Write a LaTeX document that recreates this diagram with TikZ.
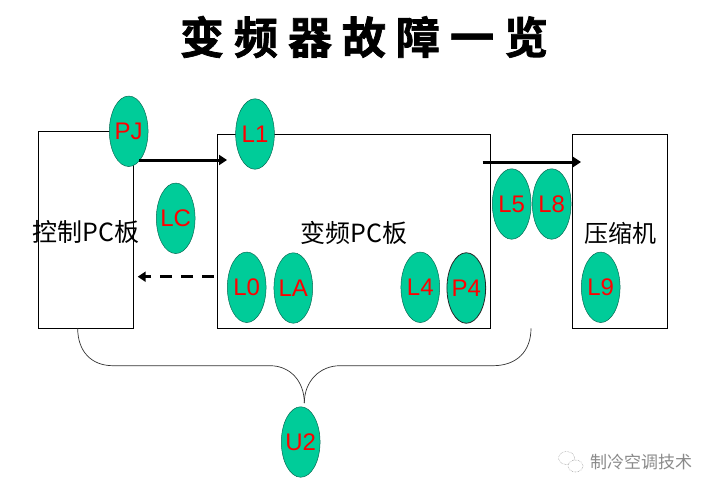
\documentclass[tikz,border=0pt]{standalone}
\usepackage{fontspec}
\setmainfont{Liberation Sans}
\newfontfamily\cjk{Noto Sans CJK SC}
\newfontfamily\cjktitle[FakeBold=1.6]{Noto Sans CJK SC Bold}
\usetikzlibrary{arrows.meta,calc,shapes.geometric}
\definecolor{ovalgreen}{HTML}{00CC99}
\definecolor{ovalline}{HTML}{0A6B55}
\definecolor{wm}{HTML}{8A8A8A}
\tikzset{
  oval/.style={ellipse,draw=ovalline,line width=.5pt,fill=ovalgreen,minimum width=38.7pt,minimum height=70.5pt,inner sep=0pt,text=red,font=\fontsize{24}{24}\selectfont,execute at begin node={\hbox to 0pt\bgroup\hss\lower.8pt\hbox\bgroup},execute at end node={\egroup\hss\egroup}},
  board/.style={draw=black,line width=.8pt,fill=none,inner sep=0pt},
  lbl/.style={inner sep=0pt,font=\fontsize{25}{25}\selectfont\cjk},
  flow/.style={line width=3pt,-{Triangle[length=8pt,width=10pt]}},
  brace/.style={draw=black!80,line width=.7pt}
}
\begin{document}
\begin{tikzpicture}[x=1pt,y=-1pt]
\useasboundingbox (0,0) rectangle (714,493);
% boards
\node[board,minimum width=94.6pt,minimum height=197pt] (ctrl) at (86,229.8) {};
\node[board,minimum width=272.7pt,minimum height=194pt] (inv) at (353.65,231.3) {};
\node[board,minimum width=95pt,minimum height=194pt] (comp) at (619.8,231.3) {};
% title
\node[inner sep=0pt] (title) at (364,37) {\fontsize{44}{44}\selectfont\cjktitle 变\hspace{10pt}频\hspace{10pt}器\hspace{10pt}故\hspace{10pt}障\hspace{10pt}一\hspace{10pt}览};
% labels
\node[lbl] (lctrl) at (85.7,232.5) {控制PC板};
\node[lbl] (linv) at (354,232.5) {变频PC板};
\node[lbl,font=\fontsize{24}{24}\selectfont\cjk] (lcomp) at (620,233) {压缩机};
% ovals
\node[oval] (pj) at (128.7,131.3) {PJ};
\node[oval] (l1) at (255,134) {L1};
\node[oval] (lc) at (175.7,218.3) {LC};
\node[oval] (l0) at (246.7,287.3) {L0};
\node[oval] (la) at (293.3,288) {LA};
\node[oval] (l4) at (420.3,287.3) {L4};
\node[oval,draw=black!85,line width=.8pt] (p4) at (466.3,288) {P4};
\node[oval] (l5) at (511.7,204) {L5};
\node[oval] (l8) at (551.7,204) {L8};
\node[oval] (l9) at (600.7,287.3) {L9};
\node[oval] (u2) at (300.7,442) {U2};
% arrows
\coordinate (a1s) at (139.3,160);
\coordinate (a1e) at (227,160);
\coordinate (a2s) at (482.7,162);
\coordinate (a2e) at (581,162);
\coordinate (a3s) at (214,276.7);
\coordinate (a3e) at (137.7,276.7);
\draw[flow] (a1s) -- (a1e);
\draw[flow] (a2s) -- (a2e);
\draw[flow,dash pattern=on 11.7pt off 9.3pt] (a3s) -- (a3e);
% brace
\coordinate (bl) at (77.7,328.3);
\coordinate (br) at (531,328.3);
\coordinate (bm) at (304.3,403);
\draw[brace] (bl) .. controls (77.7,351) and (91,365.7) .. (113,365.7) -- (270,365.7)
  .. controls (290,365.7) and (304.3,381) .. (bm);
\draw[brace] (br) .. controls (531,351) and (517,365.7) .. (493,365.7) -- (340,365.7)
  .. controls (320,365.7) and (304.3,381) .. (bm);
% watermark
\node[ellipse,draw=wm,densely dotted,line width=.5pt,minimum width=16pt,minimum height=13pt,inner sep=0pt] (wm1) at (566.5,458) {};
\node[ellipse,draw=wm,fill=white,densely dotted,line width=.5pt,minimum width=15pt,minimum height=12pt,inner sep=0pt] (wm2) at (575.5,466) {};
\node[inner sep=0pt,text=wm,font=\fontsize{17}{17}\selectfont\cjk] (wmt) at (641,462) {制冷空调技术};
\end{tikzpicture}
\end{document}
